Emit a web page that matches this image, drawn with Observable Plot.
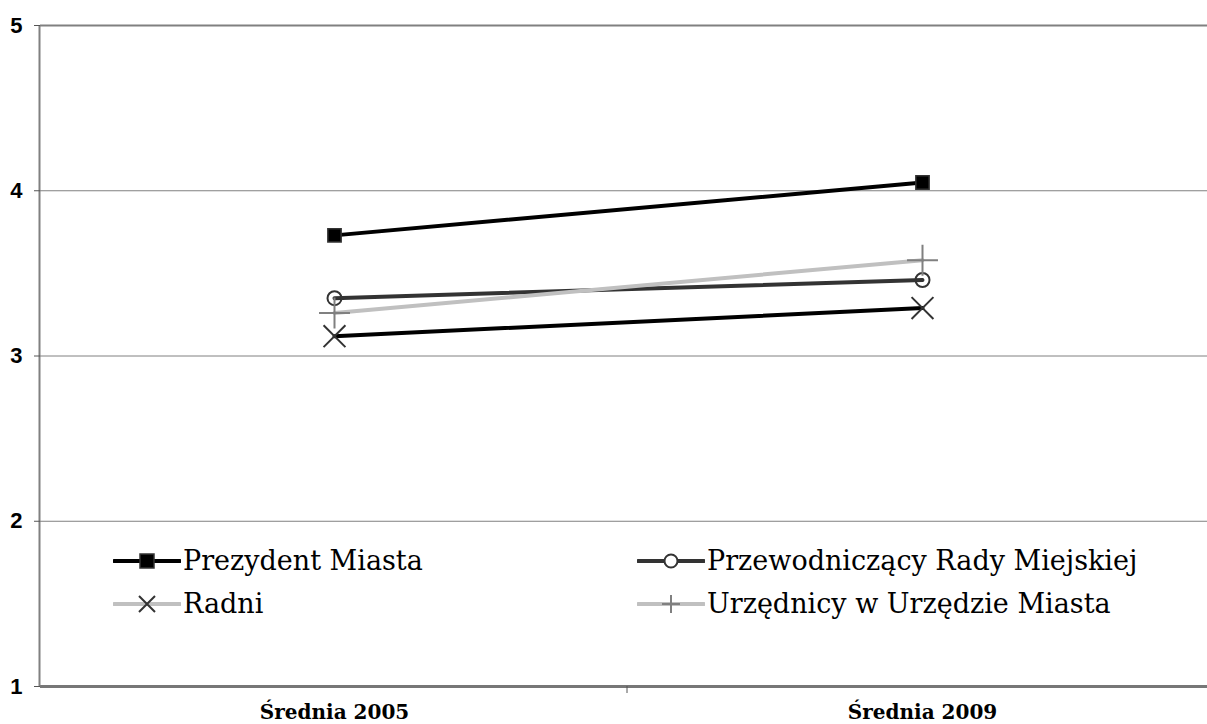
<!DOCTYPE html>
<html><head><meta charset="utf-8">
<script src="https://cdn.jsdelivr.net/npm/d3@7"></script>
<script src="https://cdn.jsdelivr.net/npm/@observablehq/plot@0.6"></script>
<style>
html,body{margin:0;padding:0;background:#fff;}
#wrap{position:relative;width:1207px;height:724px;}
.leg{position:absolute;display:flex;align-items:center;font-family:"DejaVu Serif",serif;font-size:27px;color:#000;white-space:nowrap;}
.leg svg{display:block;margin-right:2px;}
</style></head>
<body><div id="wrap"></div>
<script>
const categories = ["Średnia 2005", "Średnia 2009"];
const seriesNames = ["Prezydent Miasta", "Przewodniczący Rady Miejskiej", "Radni", "Urzędnicy w Urzędzie Miasta"];
const prezydent = [3.73, 4.05];
const przewodniczacy = [3.35, 3.46];
const radni = [3.12, 3.29];
const urzednicy = [3.26, 3.58];
const yTicks = [1, 2, 3, 4, 5];

const styles = [
  {line:"#000", symbol:"square", fill:"#000", stroke:"#333", r:7.5, sw:1.5},
  {line:"#333", symbol:"circle", fill:"none", stroke:"#333", r:7, sw:2},
  {line:"#000", symbol:"times", fill:"none", stroke:"#333", r:10, sw:2},
  {line:"#c0c0c0", symbol:"plus", fill:"none", stroke:"#808080", r:10, sw:2}
];
const allValues = [prezydent, przewodniczacy, radni, urzednicy];
const rows = [];
allValues.forEach((vals, si) => vals.forEach((v, ci) => rows.push({series: seriesNames[si], cat: categories[ci], value: v, si})));

const marks = [
  Plot.ruleY([2,3,4], {stroke:"#808080", strokeWidth:1}),
  Plot.ruleY([5], {stroke:"#808080", strokeWidth:2}),
  Plot.ruleY([1], {stroke:"#777", strokeWidth:3}),
  Plot.ruleX([0], {x: () => categories[0], stroke:"#808080", strokeWidth:2, y1:1, y2:5, dx:-295}),
  Plot.ruleX([categories[1]], {x: d => d, stroke:"#555", strokeWidth:1, y1:1, y2:1, dx:-295.5, insetBottom:-7}),
  Plot.axisY({ticks: yTicks, tickSize:6, tickPadding:12, tickFormat: d3.format("d"), stroke:"#555", fontSize:22, fontWeight:"bold", fontFamily:"Liberation Sans, Arial, sans-serif", fill:"#000", label:null}),
  Plot.axisX({tickSize:0, tickPadding:18, fontSize:20, fontWeight:"bold", fontFamily:"DejaVu Serif, serif", fill:"#000", label:null})
];
styles.forEach((s, si) => {
  const data = rows.filter(d => d.si === si);
  marks.push(Plot.line(data, {x:"cat", y:"value", stroke:s.line, strokeWidth:4}));
});
styles.forEach((s, si) => {
  const data = rows.filter(d => d.si === si);
  marks.push(Plot.dot(data, {x:"cat", y:"value", symbol: () => s.symbol, r:s.r, fill:s.fill, stroke:s.stroke, strokeWidth:s.sw}));
});

const chart = Plot.plot({
  width:1207, height:724,
  marginLeft:40, marginTop:25, marginBottom:38, marginRight:0,
  x:{type:"band", domain:categories, range:[40,1216], padding:0},
  y:{domain:[1,5], range:[686,25]},
  symbol:{type:"identity"},
  style:{background:"#fff", overflow:"visible"},
  marks
});
const wrap = document.getElementById("wrap");
wrap.appendChild(chart);

// legend overlay
const legPos = [
  {left:113, top:562}, {left:637, top:562}, {left:113, top:605}, {left:637, top:605}
];
const legLine = ["#000", "#333", "#c0c0c0", "#c0c0c0"];
const symSvg = [
  '<rect x="27" y="5" width="14" height="14" fill="#000" stroke="#333" stroke-width="1.5"/>',
  '<circle cx="34" cy="12" r="6.5" fill="#fff" stroke="#333" stroke-width="2"/>',
  '<path d="M26,4L42,20M42,4L26,20" stroke="#333" stroke-width="2"/>',
  '<path d="M34,3V21M25,12H43" stroke="#808080" stroke-width="2"/>'
];
seriesNames.forEach((name, i) => {
  const d = document.createElement("div");
  d.className = "leg";
  d.style.left = legPos[i].left + "px";
  d.style.top = (legPos[i].top - 17) + "px";
  d.innerHTML = `<svg width="68" height="24"><line x1="1" y1="12" x2="67" y2="12" stroke="${legLine[i]}" stroke-width="4" stroke-linecap="round"/>${symSvg[i]}</svg><span>${name}</span>`;
  wrap.appendChild(d);
});
</script></body></html>
